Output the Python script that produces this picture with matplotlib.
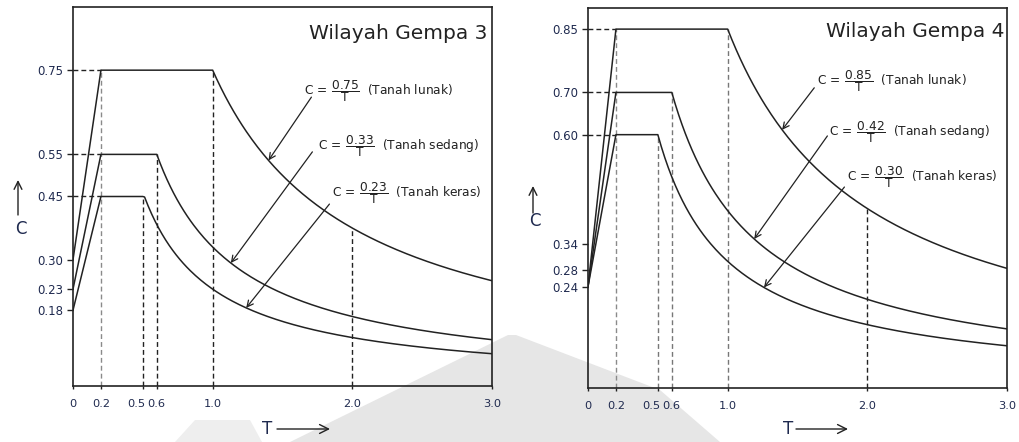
import matplotlib.pyplot as plt
import matplotlib.transforms as mtransforms
import numpy as np
from matplotlib.patches import Polygon

plt.rcParams['font.family'] = 'DejaVu Sans'
plt.rcParams['mathtext.fontset'] = 'dejavusans'

W, H = 1019, 442  # output size in pixels

# shared period axis
period_ticks = [0, 0.2, 0.5, 0.6, 1.0, 2.0, 3.0]
period_labels = ['0', '0.2', '0.5', '0.6', '1.0', '2.0', '3.0']
soil_names = ['Tanah lunak', 'Tanah sedang', 'Tanah keras']
t_corner = 0.2
t_max = 3.0
t_check = 2.0

# Wilayah Gempa 3 (lunak, sedang, keras)
w3_start = [0.30, 0.23, 0.18]
w3_peak = [0.75, 0.55, 0.45]
w3_coef = [0.75, 0.33, 0.23]
w3_tc = [1.0, 0.6, 0.5]
w3_yticks = [0.18, 0.23, 0.30, 0.45, 0.55, 0.75]
w3_coef_labels = ['0.75', '0.33', '0.23']

# Wilayah Gempa 4 (lines drawn from a common start in the source)
w4_start = [0.24, 0.24, 0.24]
w4_peak = [0.85, 0.70, 0.60]
w4_coef = [0.85, 0.42, 0.30]
w4_tc = [1.0, 0.6, 0.5]
w4_yticks = [0.24, 0.28, 0.34, 0.60, 0.70, 0.85]
w4_coef_labels = ['0.85', '0.42', '0.30']

INK = '#222222'
TICK_COLOR = '#1f2a4f'


def px(x, y):
    # figure pixel (from top-left) -> figure fraction
    return x / W, 1 - y / H


def draw_panel(fig, ax, title, start, peak, coef, tc, yticks, coef_labels,
               label_pos, arrow_start, arrow_tip, vgray, title_pos):
    ax.set_facecolor('none')
    for a0, am, ar, t_c in zip(start, peak, coef, tc):
        tt = np.linspace(t_c, t_max, 200)
        t = np.concatenate([[0, t_corner], tt])
        c = np.concatenate([[a0, am], np.minimum(am, ar / tt)])
        ax.plot(t, c, color=INK, lw=1.1, zorder=3)

    dash = (0, (3.5, 2.2))
    # horizontal guides from the axis to the corner period
    for am in peak:
        ax.plot([0, t_corner], [am, am], color=INK, lw=1.0, ls=dash)
    # vertical guides
    ax.plot([t_corner, t_corner], [0, max(peak)], color='#8a8a8a', lw=1.0, ls=dash)
    for am, t_c in zip(peak, tc):
        ax.plot([t_c, t_c], [0, am], color=vgray, lw=1.0, ls=dash)
    ax.plot([t_check, t_check], [0, coef[0] / t_check], color=INK, lw=1.0, ls=dash)

    # formula labels with arrows
    for lab, name, (tx, ty), (sx, sy), tip, ar in zip(
            coef_labels, soil_names, label_pos, arrow_start, arrow_tip, coef):
        ax.text(tx, ty, r'$\mathrm{C}\,=\,\dfrac{%s}{\mathrm{T}}$  (%s)' % (lab, name),
                fontsize=8.8, color=INK, ha='left', va='center')
        ax.annotate('', xy=(tip, ar / tip), xytext=(sx, sy),
                    arrowprops=dict(arrowstyle='->', color=INK, lw=0.9,
                                    mutation_scale=11, shrinkA=0, shrinkB=0))

    ax.text(title_pos[0], title_pos[1], title, transform=ax.transAxes,
            ha='right', va='center', fontsize=14.5, color=INK)

    ax.set_xlim(0, t_max)
    ax.set_ylim(0, 0.9)
    ax.set_xticks(period_ticks)
    ax.set_xticklabels(period_labels)
    ax.set_yticks(yticks)
    ax.set_yticklabels(['%.2f' % v for v in yticks])
    ax.tick_params(axis='y', direction='out', length=4.5, width=1, pad=2.5,
                   labelsize=8.5, labelcolor=TICK_COLOR, color=INK)
    ax.tick_params(axis='x', direction='out', length=2.5, width=1, pad=7,
                   labelsize=8.2, labelcolor=TICK_COLOR, color=INK)
    # crowded 0.5 / 0.6 labels sit slightly left of their ticks
    shifts = {'0.5': -7, '0.6': -1}
    for lbl in ax.get_xticklabels():
        dx = shifts.get(lbl.get_text(), 0)
        if dx:
            off = mtransforms.ScaledTranslation(dx / 100, 0, fig.dpi_scale_trans)
            lbl.set_transform(lbl.get_transform() + off)
    for s in ax.spines.values():
        s.set_color(INK)
        s.set_linewidth(1.2)


fig = plt.figure(figsize=(W / 100, H / 100), dpi=100)

# faint watermark behind the charts
wm = Polygon([px(290, 442), px(508, 335), px(516, 335), px(660, 390),
              px(720, 442)], closed=True, transform=fig.transFigure,
             facecolor='#e6e6e6', edgecolor='none', zorder=-1)
fig.add_artist(wm)
wm2 = Polygon([px(175, 442), px(195, 420), px(250, 420), px(262, 442)],
              closed=True, transform=fig.transFigure,
              facecolor='#eeeeee', edgecolor='none', zorder=-1)
fig.add_artist(wm2)

ax1 = fig.add_axes([73 / W, 1 - 386 / H, 419 / W, 379 / H])
ax2 = fig.add_axes([588 / W, 1 - 388 / H, 419 / W, 380 / H])

draw_panel(fig, ax1, 'Wilayah Gempa 3', w3_start, w3_peak, w3_coef, w3_tc,
           w3_yticks, w3_coef_labels,
           label_pos=[(1.657, 0.70), (1.757, 0.57), (1.857, 0.458)],
           arrow_start=[(1.707, 0.686), (1.714, 0.556), (1.836, 0.432)],
           arrow_tip=[1.40, 1.13, 1.24], vgray=INK,
           title_pos=(0.990, 0.931))
draw_panel(fig, ax2, 'Wilayah Gempa 4', w4_start, w4_peak, w4_coef, w4_tc,
           w4_yticks, w4_coef_labels,
           label_pos=[(1.643, 0.727), (1.729, 0.607), (1.857, 0.50)],
           arrow_start=[(1.62, 0.711), (1.714, 0.597), (1.836, 0.476)],
           arrow_tip=[1.39, 1.19, 1.26], vgray='#777777',
           title_pos=(0.995, 0.937))

# axis names with arrows
for (cx, cy, ax0, ay0, ay1) in [(21, 229, 18, 215, 180), (535, 221, 533, 213, 186)]:
    fig.text(*px(cx, cy), 'C', fontsize=12, color=TICK_COLOR, ha='center', va='center')
    fig.add_artist(plt.Annotation('', xy=px(ax0, ay1), xytext=px(ax0, ay0),
                                  xycoords='figure fraction',
                                  arrowprops=dict(arrowstyle='->', color=INK, lw=1.0,
                                                  mutation_scale=14, shrinkA=0, shrinkB=0)))
for (tx, ty, a0, a1) in [(267, 429, 277, 330), (788, 429, 796, 848)]:
    fig.text(*px(tx, ty), 'T', fontsize=12, color=TICK_COLOR, ha='center', va='center')
    fig.add_artist(plt.Annotation('', xy=px(a1, ty), xytext=px(a0, ty),
                                  xycoords='figure fraction',
                                  arrowprops=dict(arrowstyle='->', color=INK, lw=1.0,
                                                  mutation_scale=16, shrinkA=0, shrinkB=0)))

fig.savefig('out.png', dpi=100)
